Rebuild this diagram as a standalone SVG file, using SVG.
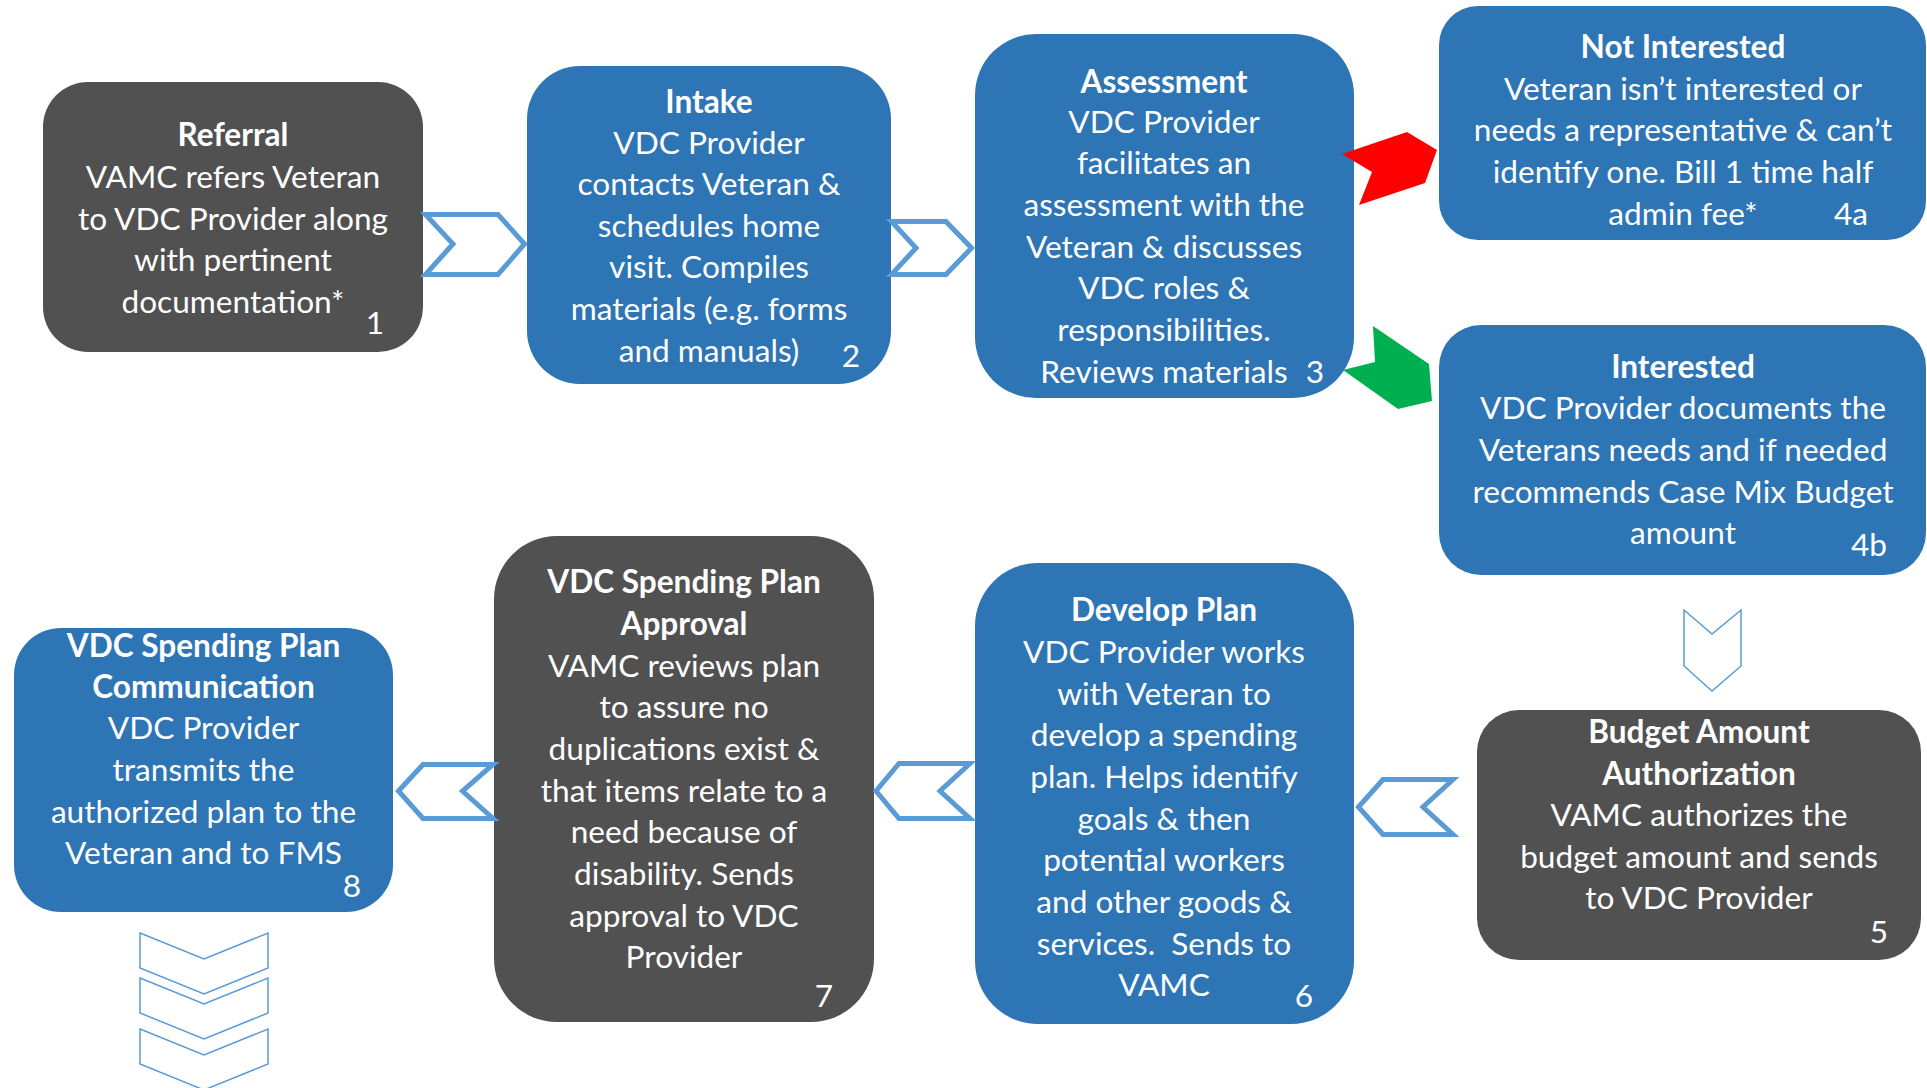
<svg xmlns="http://www.w3.org/2000/svg" width="1927" height="1088" viewBox="0 0 1927 1088">
<style>
.blue{fill:#2E75B6}
.gray{fill:#515151}
text{font-family:Lato,"Open Sans","Liberation Sans",sans-serif;font-size:31.6px;fill:#FFFFFF;text-anchor:middle}
.t{font-weight:bold}
.chev{fill:none;stroke:#5B9BD5;stroke-width:5;stroke-linejoin:miter}
.thin{fill:none;stroke:#5B9BD5;stroke-width:1.5;stroke-linejoin:miter}
</style>
<rect width="1927" height="1088" fill="#FFFFFF"/>
<g id="node1">
<rect class="gray" x="43" y="82" width="380" height="270" rx="45"/>
<text class="t" x="233" y="145.5">Referral</text>
<text x="233" y="188">VAMC refers Veteran</text>
<text x="233" y="229.5">to VDC Provider along</text>
<text x="233" y="271">with pertinent</text>
<text x="233" y="312.5">documentation*</text>
<text x="375" y="333.5">1</text>
</g>
<g id="node2">
<rect class="blue" x="527" y="66" width="364" height="318" rx="53"/>
<text class="t" x="709" y="112.5">Intake</text>
<text x="709" y="153.5">VDC Provider</text>
<text x="709" y="195">contacts Veteran &amp;</text>
<text x="709" y="236.5">schedules home</text>
<text x="709" y="277.5">visit. Compiles</text>
<text x="709" y="319.5">materials (e.g. forms</text>
<text x="709" y="361.5">and manuals)</text>
<text x="851" y="366.5">2</text>
</g>
<g id="node3">
<rect class="blue" x="975" y="34" width="379" height="364" rx="61"/>
<text class="t" x="1164" y="92.5">Assessment</text>
<text x="1164" y="132.5">VDC Provider</text>
<text x="1164" y="174">facilitates an</text>
<text x="1164" y="215.5">assessment with the</text>
<text x="1164" y="257.5">Veteran &amp; discusses</text>
<text x="1164" y="299">VDC roles &amp;</text>
<text x="1164" y="340.5">responsibilities.</text>
<text x="1164" y="382.5">Reviews materials</text>
<text x="1315" y="382.5">3</text>
</g>
<g id="node4a">
<rect class="blue" x="1439" y="6" width="487" height="234" rx="39"/>
<text class="t" x="1683" y="57.5">Not Interested</text>
<text x="1683" y="99.5">Veteran isn’t interested or</text>
<text x="1683" y="141">needs a representative &amp; can’t</text>
<text x="1683" y="182.5">identify one. Bill 1 time half</text>
<text x="1683" y="224.5">admin fee*</text>
<text x="1851" y="224.5">4a</text>
</g>
<g id="node4b">
<rect class="blue" x="1439" y="325" width="487" height="250" rx="42"/>
<text class="t" x="1683" y="377.5">Interested</text>
<text x="1683" y="418.5">VDC Provider documents the</text>
<text x="1683" y="460.5">Veterans needs and if needed</text>
<text x="1683" y="502.5">recommends Case Mix Budget</text>
<text x="1683" y="543.5">amount</text>
<text x="1869" y="555.5">4b</text>
</g>
<g id="node5">
<rect class="gray" x="1477" y="710" width="444" height="250" rx="42"/>
<text class="t" x="1699" y="742.5">Budget Amount</text>
<text class="t" x="1699" y="784.5">Authorization</text>
<text x="1699" y="825.5">VAMC authorizes the</text>
<text x="1699" y="867.5">budget amount and sends</text>
<text x="1699" y="909">to VDC Provider</text>
<text x="1879" y="942.5">5</text>
</g>
<g id="node6">
<rect class="blue" x="975" y="563" width="379" height="461" rx="63"/>
<text class="t" x="1164" y="620.5">Develop Plan</text>
<text x="1164" y="662.5">VDC Provider works</text>
<text x="1164" y="704.5">with Veteran to</text>
<text x="1164" y="745.5">develop a spending</text>
<text x="1164" y="787.5">plan. Helps identify</text>
<text x="1164" y="829.5">goals &amp; then</text>
<text x="1164" y="870.5">potential workers</text>
<text x="1164" y="912.5">and other goods &amp;</text>
<text x="1164" y="954.5" xml:space="preserve">services.  Sends to</text>
<text x="1164" y="995.5">VAMC</text>
<text x="1304" y="1006.5">6</text>
</g>
<g id="node7">
<rect class="gray" x="494" y="536" width="380" height="486" rx="63"/>
<text class="t" x="684" y="593">VDC Spending Plan</text>
<text class="t" x="684" y="634.5">Approval</text>
<text x="684" y="676.5">VAMC reviews plan</text>
<text x="684" y="718">to assure no</text>
<text x="684" y="759.5">duplications exist &amp;</text>
<text x="684" y="801.5">that items relate to a</text>
<text x="684" y="843">need because of</text>
<text x="684" y="884.5">disability. Sends</text>
<text x="684" y="926.5">approval to VDC</text>
<text x="684" y="968">Provider</text>
<text x="824" y="1006.5">7</text>
</g>
<g id="node8">
<rect class="blue" x="14" y="628" width="379" height="284" rx="47"/>
<text class="t" x="203.5" y="656.5">VDC Spending Plan</text>
<text class="t" x="203.5" y="697.5">Communication</text>
<text x="203.5" y="738.5">VDC Provider</text>
<text x="203.5" y="780.5">transmits the</text>
<text x="203.5" y="822.5">authorized plan to the</text>
<text x="203.5" y="864">Veteran and to FMS</text>
<text x="352" y="896.5">8</text>
</g>
<g id="connectors">
<path class="chev" d="M425.5,214.5 H498 L524.5,244 L498,274.5 H425.5 L453,244 Z"/>
<path class="chev" d="M891.5,221.5 H946 L971.5,248 L946,274.5 H891.5 L916,248 Z"/>
<polygon fill="#FF0000" points="1342,154 1407,132 1437,150 1425,183 1359,205 1372,172"/>
<polygon fill="#00B050" points="1373,326 1429,364 1432,401 1398,409 1343,370 1375,362"/>
<path class="thin" d="M1684,610 L1712,634 L1741,610 V666 L1712,691 L1684,666 Z"/>
<path class="chev" d="M1358.5,807 L1383,779.5 H1453 L1423,807 L1453,834.5 H1383 Z"/>
<path class="chev" d="M876,791 L899,763.5 H970 L940,791 L970,818.5 H899 Z"/>
<path class="chev" d="M398.5,791 L423,764.5 H493 L462.5,791 L493,818.5 H423 Z"/>
<path class="thin" d="M140,933 L204,959 L268,933 V968 L204,994 L140,968 Z"/>
<path class="thin" d="M140,978 L204,1004 L268,978 V1013 L204,1039 L140,1013 Z"/>
<path class="thin" d="M140,1029 L204,1055 L268,1029 V1064 L204,1090 L140,1064 Z"/>
</g>
</svg>
